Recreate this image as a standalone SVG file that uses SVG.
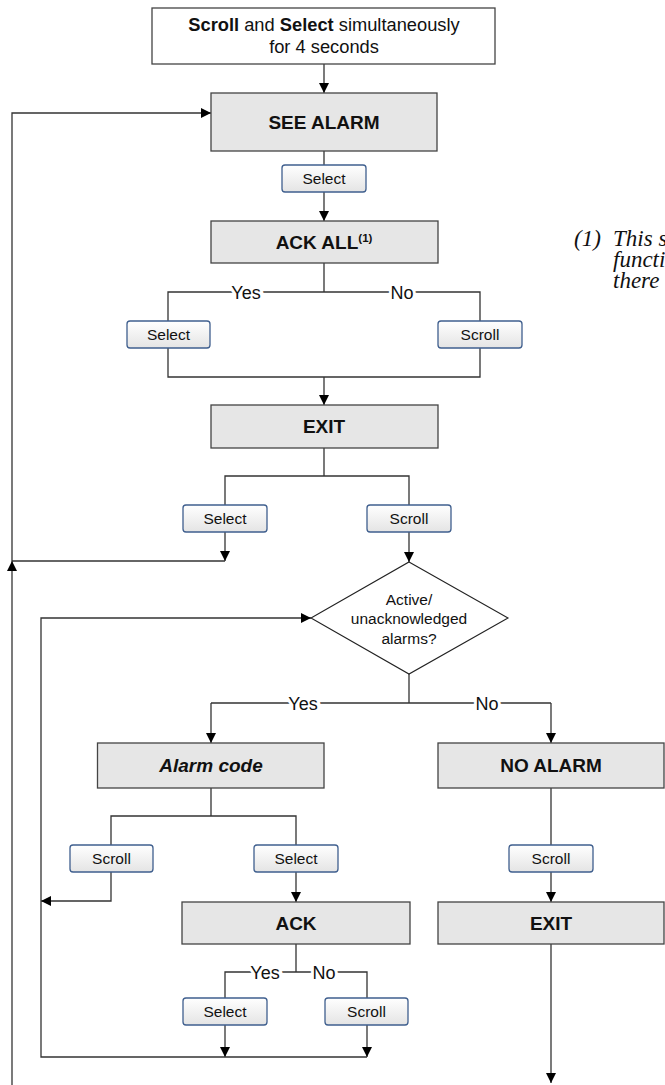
<svg xmlns="http://www.w3.org/2000/svg" width="665" height="1085" viewBox="0 0 665 1085">
<defs>
<linearGradient id="btn" x1="0" y1="0" x2="0" y2="1">
<stop offset="0" stop-color="#ffffff"/>
<stop offset="1" stop-color="#e4e4e4"/>
</linearGradient>
<marker id="ah" markerUnits="userSpaceOnUse" markerWidth="10" markerHeight="10" refX="10" refY="5" orient="auto">
<path d="M0,0 L10,5 L0,10 z" fill="#000"/>
</marker>
</defs>
<style>
.box{fill:#e6e6e6;stroke:#444;stroke-width:1.3}
.start{fill:#fff;stroke:#444;stroke-width:1.3}
.btn{fill:url(#btn);stroke:#3f5f8e;stroke-width:1.3}
.dia{fill:#fff;stroke:#222;stroke-width:1.1}
.c{fill:none;stroke:#333;stroke-width:1.3}
.a{marker-end:url(#ah)}
text{font-family:"Liberation Sans",Arial,sans-serif;fill:#111;text-anchor:middle}
.t{font-size:19px;font-weight:bold}
.b{font-size:15.5px}
.s{font-size:18.3px}
.l{font-size:18px;stroke:#fff;stroke-width:6;paint-order:stroke}
.d{font-size:15.5px}
.fn{font-family:"Liberation Serif","Times New Roman",serif;font-style:italic;font-size:23px;text-anchor:start}
</style>

<g id="connectors">
<path class="c a" d="M324,64 V93"/>
<path class="c" d="M324,151 V165"/>
<path class="c a" d="M324,192 V221"/>
<path class="c" d="M324,263 V292 M168,321 V292 H480 V321"/>
<path class="c" d="M168,348 V377 H480 V348"/>
<path class="c a" d="M324,377 V405"/>
<path class="c" d="M324,448 V476 M225,505 V476 H409 V505"/>
<path class="c a" d="M225,532 V561"/>
<path class="c" d="M225,561 H12"/>
<path class="c a" d="M12,1085 V561"/>
<path class="c a" d="M12,561 V113 H211"/>
<path class="c a" d="M409,532 V562"/>
<path class="c" d="M409,674 V703 H211 M409,703 H551"/>
<path class="c a" d="M211,703 V743"/>
<path class="c a" d="M551,703 V743"/>
<path class="c" d="M211,788 V816 M111,845 V816 H296 V845"/>
<path class="c a" d="M111,872 V901 H41"/>
<path class="c a" d="M296,872 V902"/>
<path class="c" d="M296,944 V972 M225,998 V972 H367 V998"/>
<path class="c a" d="M225,1025 V1057"/>
<path class="c a" d="M367,1025 V1057"/>
<path class="c a" d="M367,1057 H41 V618 H311"/>
<path class="c" d="M551,788 V845"/>
<path class="c a" d="M551,872 V902"/>
<path class="c a" d="M551,944 V1083"/>
<text class="l" x="246" y="298.5">Yes</text>
<text class="l" x="402" y="298.5">No</text>
<text class="l" x="303" y="709.5">Yes</text>
<text class="l" x="487" y="709.5">No</text>
<text class="l" x="265" y="978.5">Yes</text>
<text class="l" x="324" y="978.5">No</text>
</g>

<g id="start">
<rect class="start" x="152" y="8" width="343" height="56"/>
<text class="s" x="324" y="31"><tspan font-weight="bold">Scroll</tspan> and <tspan font-weight="bold">Select</tspan> simultaneously</text>
<text class="s" x="324" y="53">for 4 seconds</text>
</g>
<g id="see-alarm">
<rect class="box" x="211" y="93" width="226" height="58"/>
<text class="t" x="324" y="129">SEE ALARM</text>
</g>
<g id="btn-select-1">
<rect class="btn" x="282" y="165" width="84" height="27" rx="3"/>
<text class="b" x="324" y="184">Select</text>
</g>
<g id="ack-all">
<rect class="box" x="211" y="221" width="227" height="42"/>
<text class="t" x="324" y="249">ACK ALL<tspan font-size="11.5px" dy="-7">(1)</tspan></text>
</g>
<g id="btn-select-2">
<rect class="btn" x="127" y="321" width="83" height="27" rx="3"/>
<text class="b" x="168.5" y="340">Select</text>
</g>
<g id="btn-scroll-2">
<rect class="btn" x="438" y="321" width="84" height="27" rx="3"/>
<text class="b" x="480" y="340">Scroll</text>
</g>
<g id="exit-1">
<rect class="box" x="211" y="405" width="227" height="43"/>
<text class="t" x="324" y="433">EXIT</text>
</g>
<g id="btn-select-3">
<rect class="btn" x="183" y="505" width="84" height="27" rx="3"/>
<text class="b" x="225" y="524">Select</text>
</g>
<g id="btn-scroll-3">
<rect class="btn" x="367" y="505" width="84" height="27" rx="3"/>
<text class="b" x="409" y="524">Scroll</text>
</g>
<g id="decision">
<polygon class="dia" points="409,562 508,618 409,674 311,618"/>
<text class="d" x="409" y="604.5">Active/</text>
<text class="d" x="409" y="623.5">unacknowledged</text>
<text class="d" x="409" y="643.5">alarms?</text>
</g>
<g id="alarm-code">
<rect class="box" x="97.5" y="743" width="226.5" height="45"/>
<text class="t" x="211" y="772" font-style="italic">Alarm code</text>
</g>
<g id="no-alarm">
<rect class="box" x="438" y="743" width="226" height="45"/>
<text class="t" x="551" y="772">NO ALARM</text>
</g>
<g id="btn-scroll-4">
<rect class="btn" x="70" y="845" width="83" height="27" rx="3"/>
<text class="b" x="111.5" y="864">Scroll</text>
</g>
<g id="btn-select-4">
<rect class="btn" x="254" y="845" width="84" height="27" rx="3"/>
<text class="b" x="296" y="864">Select</text>
</g>
<g id="btn-scroll-5">
<rect class="btn" x="509" y="845" width="84" height="27" rx="3"/>
<text class="b" x="551" y="864">Scroll</text>
</g>
<g id="ack">
<rect class="box" x="182" y="902" width="228" height="42"/>
<text class="t" x="296" y="930">ACK</text>
</g>
<g id="exit-2">
<rect class="box" x="438" y="902" width="226" height="42"/>
<text class="t" x="551" y="930">EXIT</text>
</g>
<g id="btn-select-5">
<rect class="btn" x="183" y="998" width="84" height="27" rx="3"/>
<text class="b" x="225" y="1017">Select</text>
</g>
<g id="btn-scroll-6">
<rect class="btn" x="325" y="998" width="83" height="27" rx="3"/>
<text class="b" x="366.5" y="1017">Scroll</text>
</g>
<g id="footnote">
<text class="fn" x="574" y="246">(1)</text>
<text class="fn" x="613" y="246">This s</text>
<text class="fn" x="613" y="267">functi</text>
<text class="fn" x="613" y="288">there</text>
</g>
</svg>
